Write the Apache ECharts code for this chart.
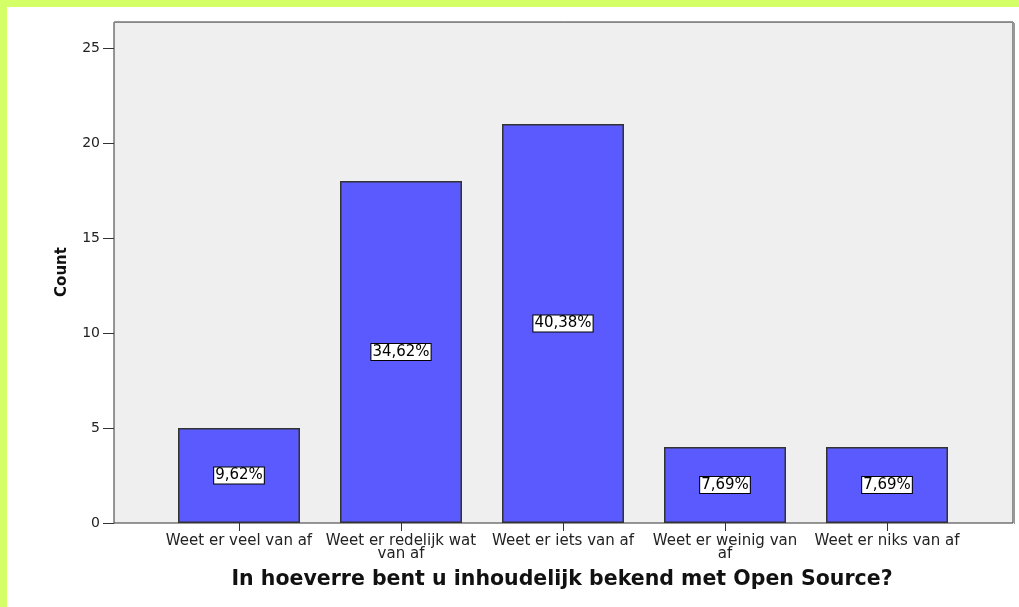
<!DOCTYPE html>
<html>
<head>
<meta charset="utf-8">
<script src="https://cdn.jsdelivr.net/npm/echarts@6/dist/echarts.min.js"></script>
<style>html,body{margin:0;padding:0;background:#fff}#c{width:1019px;height:607px}</style>
</head>
<body>
<div id="c"></div>
<script>
const categories = ['Weet er veel van af', 'Weet er redelijk wat\nvan af', 'Weet er iets van af', 'Weet er weinig van\naf', 'Weet er niks van af'];
const counts = [5, 18, 21, 4, 4];
const percentLabels = ['9,62%', '34,62%', '40,38%', '7,69%', '7,69%'];
const yTicks = [0, 5, 10, 15, 20, 25];
const xTitle = 'In hoeverre bent u inhoudelijk bekend met Open Source?';
const yTitle = 'Count';

const chart = echarts.init(document.getElementById('c'));
const font = 'DejaVu Sans';
chart.setOption({
  backgroundColor: '#ffffff',
  animation: false,
  graphic: [
    { type: 'rect', shape: { x: 0, y: 0, width: 1019, height: 7 }, style: { fill: '#d4ff66' }, z: 100 },
    { type: 'rect', shape: { x: 0, y: 0, width: 7, height: 607 }, style: { fill: '#d4ff66' }, z: 100 },
    { type: 'line', shape: { x1: 1014.5, y1: 23, x2: 1014.5, y2: 524 }, style: { stroke: '#999', lineWidth: 1 }, z: 100 },
    { type: 'line', shape: { x1: 114, y1: 22.5, x2: 1014, y2: 22.5 }, style: { stroke: '#888', lineWidth: 1 }, z: 100 },
    { type: 'text', x: 562, y: 580, style: { text: xTitle, font: 'bold 20.5px "DejaVu Sans"', fill: '#111', align: 'center', verticalAlign: 'middle' } },
    { type: 'text', rotation: Math.PI / 2, x: 62, y: 272, style: { text: yTitle, font: 'bold 15px "DejaVu Sans"', fill: '#111', align: 'center', verticalAlign: 'middle' } }
  ],
  grid: [
    { left: 158, right: 51, top: 22, bottom: 84, show: false },
    { left: 114, right: 6, top: 22, bottom: 84, show: true, backgroundColor: '#efefef', borderColor: '#333', borderWidth: 1, z: 0 }
  ],
  xAxis: [
    {
      type: 'category', gridIndex: 0, data: categories,
      axisLine: { show: false },
      axisTick: { show: true, alignWithLabel: true, length: 8, lineStyle: { color: '#333' } },
      axisLabel: { color: '#222', fontFamily: font, fontSize: 15, margin: 12, lineHeight: 13, interval: 0 }
    },
    { type: 'value', gridIndex: 1, show: false, min: 0, max: 1 }
  ],
  yAxis: [
    {
      type: 'value', gridIndex: 0, min: 0, max: 26.37, interval: 5, offset: 44,
      axisLine: { show: false },
      splitLine: { show: false },
      axisTick: { show: true, length: 11, lineStyle: { color: '#333' }, customValues: yTicks },
      axisLabel: { color: '#222', fontFamily: font, fontSize: 14, margin: 14, customValues: yTicks }
    },
    { type: 'value', gridIndex: 1, show: false, min: 0, max: 1 }
  ],
  series: [{
    type: 'bar', xAxisIndex: 0, yAxisIndex: 0, data: counts, barWidth: 122,
    itemStyle: { color: '#5a5aff', borderColor: '#333', borderWidth: 1.5 },
    label: {
      show: true, position: 'inside',
      formatter: p => percentLabels[p.dataIndex],
      color: '#000', fontFamily: font, fontSize: 15,
      backgroundColor: '#fff', borderColor: '#000', borderWidth: 1, padding: [1, 1, 0, 1]
    }
  }]
});
</script>
</body>
</html>
